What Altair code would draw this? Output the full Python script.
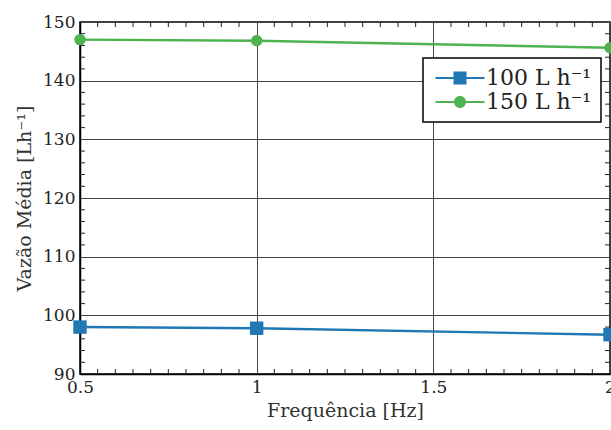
import altair as alt
import pandas as pd

# ---- data ----
freq = [0.5, 1.0, 2.0]
vazao_100 = [98.0, 97.8, 96.7]
vazao_150 = [147.0, 146.8, 145.6]
series_names = ["100 L h\u207b\u00b9", "150 L h\u207b\u00b9"]

x_major = [0.5, 1.0, 1.5, 2.0]
y_major = [90, 100, 110, 120, 130, 140, 150]
x_minor = [round(0.5 + 0.05 * i, 2) for i in range(1, 30) if i % 10 != 0]
y_minor = [90 + 2 * i for i in range(1, 30) if i % 5 != 0]

colors = ["#1f77b4", "#4cb34f"]
FONT = "DejaVu Serif"

rows = []
for f, v in zip(freq, vazao_100):
    rows.append({"f": f, "v": v, "s": series_names[0]})
for f, v in zip(freq, vazao_150):
    rows.append({"f": f, "v": v, "s": series_names[1]})
df = pd.DataFrame(rows)

W, H = 530, 352
xs = alt.Scale(domain=[0.5, 2.0], nice=False, zero=False)
ys = alt.Scale(domain=[90, 150], nice=False, zero=False)

# legend symbols: line with a marker in the middle
sq_path = ("M-3.5,-0.15H-0.93V0.15H-3.5Z "
           "M0.93,-0.15H3.5V0.15H0.93Z "
           "M-0.93,-0.93H0.93V0.93H-0.93Z")
ci_path = ("M-3.5,-0.15H-0.85V0.15H-3.5Z "
           "M0.85,-0.15H3.5V0.15H0.85Z "
           "M-0.86,0A0.86,0.86 0 1,1 0.86,0A0.86,0.86 0 1,1 -0.86,0Z")

legend = alt.Legend(
    title=None,
    orient="none",
    legendX=343,
    legendY=36,
    padding=9,
    fillColor="white",
    strokeColor="black",
    labelFont=FONT,
    labelFontSize=22,
    labelColor="#222222",
    labelOffset=15,
    symbolOffset=17,
    symbolSize=196,
    symbolStrokeWidth=0,
    symbolOpacity=1,
    rowPadding=2,
    labelLimit=300,
)

color_plain = alt.Color("s:N", scale=alt.Scale(domain=series_names, range=colors), legend=None)

x_enc = alt.X(
    "f:Q", scale=xs,
    axis=alt.Axis(values=x_major, format="~g", title="Frequência [Hz]", grid=True,
                  ticks=False, labelFlush=False, labelPadding=5, titlePadding=6),
)
y_enc = alt.Y(
    "v:Q", scale=ys,
    axis=alt.Axis(values=y_major, title="Vazão Média [Lh\u207b\u00b9]", grid=True,
                  ticks=False, labelFlush=False, labelPadding=5, titlePadding=8),
)

lines = alt.Chart(df).mark_line(strokeWidth=2.4).encode(x=x_enc, y=y_enc, color=color_plain)
points = alt.Chart(df).mark_point(filled=True, opacity=1).encode(
    x=x_enc, y=y_enc, color=color_plain,
    shape=alt.Shape("s:N", scale=alt.Scale(domain=series_names, range=["square", "circle"]), legend=None),
    size=alt.Size("s:N", scale=alt.Scale(domain=series_names, range=[180, 130]), legend=None),
)
legend_layer = alt.Chart(df).transform_filter("datum.v < 0").mark_point(
    filled=True, opacity=1, size=196, strokeWidth=0
).encode(
    x=alt.X("f:Q", scale=xs), y=alt.Y("v:Q", scale=ys),
    color=alt.Color("s:N", scale=alt.Scale(domain=series_names, range=colors), legend=legend),
    shape=alt.Shape("s:N", scale=alt.Scale(domain=series_names, range=[sq_path, ci_path]), legend=legend),
)

tick_len = 5
xm = pd.DataFrame({"f": x_minor})
ym = pd.DataFrame({"v": y_minor})
tick_color = "#222222"
xb = alt.Chart(xm).mark_rule(color=tick_color, strokeWidth=1).encode(
    x=alt.X("f:Q", scale=xs), y=alt.value(H), y2=alt.value(H - tick_len))
xt = alt.Chart(xm).mark_rule(color=tick_color, strokeWidth=1).encode(
    x=alt.X("f:Q", scale=xs), y=alt.value(0), y2=alt.value(tick_len))
yl = alt.Chart(ym).mark_rule(color=tick_color, strokeWidth=1).encode(
    y=alt.Y("v:Q", scale=ys), x=alt.value(0), x2=alt.value(tick_len))
yr = alt.Chart(ym).mark_rule(color=tick_color, strokeWidth=1).encode(
    y=alt.Y("v:Q", scale=ys), x=alt.value(W), x2=alt.value(W - tick_len))

chart = alt.layer(xb, xt, yl, yr, lines, points, legend_layer).resolve_scale(
    color="independent", shape="independent", size="independent"
).properties(
    width=W, height=H,
    background="white",
    autosize=alt.AutoSizeParams(type="none"),
    padding={"left": 80, "top": 22, "right": 1, "bottom": 56},
).configure_view(
    stroke="black", strokeWidth=1.5
).configure_axis(
    labelFont=FONT, titleFont=FONT, labelFontSize=17, titleFontSize=19,
    labelColor="#222222", titleColor="#333333", titleFontWeight="normal",
    gridColor="#444444", gridWidth=1, gridOpacity=1,
    domainColor="black", domainWidth=1.5,
).configure_legend(
    strokeWidth=1.5, cornerRadius=0
)

chart.save("out.html", embed_options={"renderer": "svg", "actions": False})
